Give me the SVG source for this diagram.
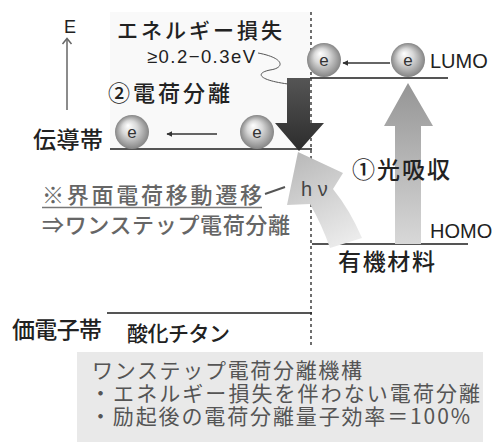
<svg xmlns="http://www.w3.org/2000/svg" width="496" height="442" viewBox="0 0 496 442">
<defs>
  <radialGradient id="ball" cx="0.5" cy="0.5" r="0.5" fx="0.38" fy="0.3">
    <stop offset="0" stop-color="#ffffff"/>
    <stop offset="0.45" stop-color="#d8d8d8"/>
    <stop offset="1" stop-color="#858585"/>
  </radialGradient>
  <linearGradient id="darkArrow" x1="0" y1="0" x2="0" y2="1">
    <stop offset="0" stop-color="#555555"/>
    <stop offset="1" stop-color="#2c2c2c"/>
  </linearGradient>
  <linearGradient id="upArrow" gradientUnits="userSpaceOnUse" x1="408" y1="83" x2="408" y2="244">
    <stop offset="0" stop-color="#959595"/>
    <stop offset="1" stop-color="#d8d8d8"/>
  </linearGradient>
  <linearGradient id="hvArrow" gradientUnits="userSpaceOnUse" x1="345" y1="245" x2="298" y2="155">
    <stop offset="0" stop-color="#ececec"/>
    <stop offset="1" stop-color="#bababa"/>
  </linearGradient>
  <marker id="head" viewBox="0 0 10 10" refX="9" refY="5" markerWidth="6" markerHeight="6" orient="auto" markerUnits="userSpaceOnUse">
    <path d="M0,0 L10,5 L0,10 Z" fill="#333"/>
  </marker>
</defs>
<style>
  .cjk { font-family: 'Noto Sans CJK JP', 'Noto Sans', sans-serif; font-weight: 500; }
  .reg { font-weight: 400; }
  .lat { font-family: 'Liberation Sans', Arial, sans-serif; }
  .dark { fill: #222; }
  .gray { fill: #666; }
  .boxtxt { fill: #555; }
  .level { stroke: #555; stroke-width: 2; fill: none; }
  .etxt { font-family: 'Liberation Sans', Arial, sans-serif; font-size: 17px; fill: #333; text-anchor: middle; }
  .ball { fill: url(#ball); }
</style>
<rect width="496" height="442" fill="#ffffff"/>
<rect x="110" y="12" width="200" height="136" fill="#f9f9f9"/>

<!-- levels -->
<g id="levels">
  <line class="level" x1="110" y1="149" x2="312" y2="149"/>
  <line class="level" x1="310" y1="78" x2="448" y2="78"/>
  <line class="level" x1="312" y1="244" x2="468" y2="244"/>
  <line class="level" x1="107" y1="313" x2="312" y2="313"/>
  <line x1="311" y1="12" x2="311" y2="346" stroke="#222" stroke-width="1.3" stroke-dasharray="3 3"/>
</g>

<!-- connectors -->
<g id="connectors">
  <line x1="67" y1="110" x2="67" y2="39" stroke="#666" stroke-width="1.5"/>
  <polyline points="62.5,44 67,38.5 71.5,44" fill="none" stroke="#666" stroke-width="1.5"/>
  <path d="M258,53 C285,58 285,68 270,70 C255,73 258,80 288,84" fill="none" stroke="#555" stroke-width="1"/>
  <path id="hv-arrow" d="M298,152 L343,173 L333,189 Q350,210 362,238 L330,248 Q322,225 310,204 L287,205 Z" fill="url(#hvArrow)"/>
  <polygon id="loss-arrow" points="287,78 310,78 310,123 324,123 299,151 275,123 287,123" fill="url(#darkArrow)"/>
  <polygon id="absorb-arrow" points="395,244 395,126 384,126 408,83 433,126 421,126 421,244" fill="url(#upArrow)"/>
  <line x1="390" y1="63" x2="343" y2="63" stroke="#333" stroke-width="1.5" marker-end="url(#head)"/>
  <line x1="217" y1="134" x2="167" y2="134" stroke="#333" stroke-width="1.5" marker-end="url(#head)"/>
  <line x1="265" y1="194" x2="285" y2="187" stroke="#555" stroke-width="2"/>
</g>

<!-- electrons -->
<g id="e-lumo-1"><circle class="ball" cx="324" cy="60" r="17"/><text class="etxt" x="324" y="66">e</text></g>
<g id="e-lumo-2"><circle class="ball" cx="408" cy="60" r="17"/><text class="etxt" x="408" y="66">e</text></g>
<g id="e-cb-1"><circle class="ball" cx="132" cy="132" r="17"/><text class="etxt" x="132" y="138">e</text></g>
<g id="e-cb-2"><circle class="ball" cx="257" cy="132" r="17"/><text class="etxt" x="257" y="138">e</text></g>

<!-- labels -->
<g id="label-E"><text class="lat dark" x="70" y="33" font-size="18" text-anchor="middle" fill="#333">E</text></g>
<g id="label-loss">
  <text class="cjk dark" x="117" y="38" font-size="21" textLength="165">エネルギー損失</text>
  <text class="lat dark" x="147" y="63" font-size="18.5" textLength="108">≥0.2−0.3eV</text>
</g>
<g id="label-sep"><text class="cjk dark" x="108" y="101" font-size="22" textLength="122">②電荷分離</text></g>
<g id="label-cb"><text class="cjk dark" x="33" y="148" font-size="23" textLength="70">伝導帯</text></g>
<g id="label-lumo"><text class="lat dark" x="430" y="68" font-size="20">LUMO</text></g>
<g id="label-homo"><text class="lat dark" x="430" y="238" font-size="20">HOMO</text></g>
<g id="label-absorb"><text class="cjk dark" x="352" y="178" font-size="23" textLength="98">①光吸収</text></g>
<g id="label-organic"><text class="cjk dark" x="338" y="270" font-size="23" textLength="97">有機材料</text></g>
<g id="label-hv"><text class="lat" x="301" y="196" font-size="20" fill="#444">h ν</text></g>
<g id="label-ict">
  <text class="cjk gray" x="42" y="203" font-size="22" textLength="220">※界面電荷移動遷移</text>
  <line x1="42" y1="207.5" x2="262" y2="207.5" stroke="#777" stroke-width="1.5"/>
  <text class="cjk gray" x="42" y="233" font-size="22" textLength="248">⇒ワンステップ電荷分離</text>
</g>
<g id="label-vb"><text class="cjk dark" x="12" y="338" font-size="23" textLength="90">価電子帯</text></g>
<g id="label-tio2"><text class="cjk dark" x="127" y="341" font-size="21" textLength="103">酸化チタン</text></g>

<g id="summary-box">
  <rect x="77" y="352" width="406" height="90" fill="#e9e9e9"/>
  <text class="cjk reg boxtxt" x="92" y="378" font-size="21" textLength="270">ワンステップ電荷分離機構</text>
  <text class="cjk reg boxtxt" x="90" y="401" font-size="21" textLength="390">・エネルギー損失を伴わない電荷分離</text>
  <text class="cjk reg boxtxt" x="90" y="424" font-size="21" textLength="380">・励起後の電荷分離量子効率＝100%</text>
</g>
</svg>
